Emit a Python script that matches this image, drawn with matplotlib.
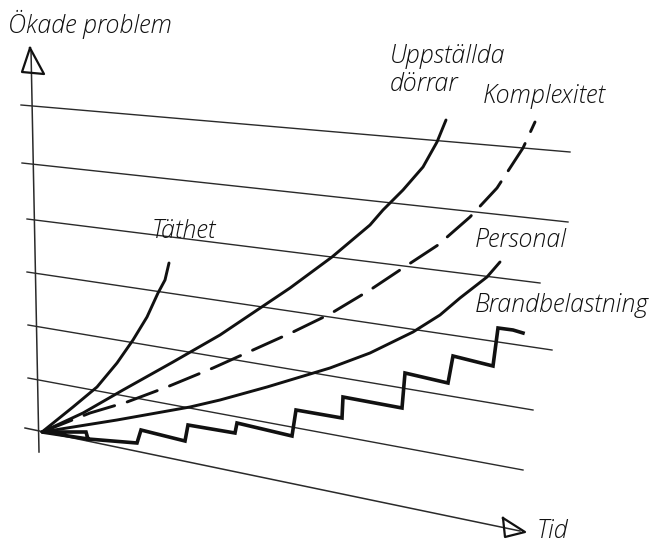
import matplotlib.pyplot as plt

# sketch is drawn in picture coordinates (x right, y down)
W, H = 660, 545

# perspective "grid" lines: start and end points
grid_x0 = [21, 22, 27, 27, 28, 28]
grid_y0 = [105, 163, 219, 272, 325, 378]
grid_x1 = [570, 568, 540, 552, 533, 523]
grid_y1 = [152, 222, 283, 350, 410, 470]

# axes
yaxis_x = [39, 31]
yaxis_y = [452, 50]
taxis_x = [25, 520]
taxis_y = [428, 531]
yarrow_x = [30, 22, 44, 30]
yarrow_y = [48, 72, 74, 48]
tarrow_x = [503, 525, 505, 503]
tarrow_y = [518, 532, 537, 518]

# curves
tathet_x = [42, 73, 97, 117, 133, 147, 158, 165, 169]
tathet_y = [432, 407, 387, 363, 340, 317, 293, 280, 263]

dorrar_x = [42, 83, 123, 173, 220, 290, 332, 370, 383, 403, 423, 437, 446]
dorrar_y = [432, 413, 390, 362, 335, 288, 257, 225, 210, 190, 167, 142, 120]

komplex_x = [42, 90, 127, 167, 213, 253, 293, 330, 370, 403, 438, 470, 497, 523, 535]
komplex_y = [432, 413, 402, 387, 368, 350, 332, 314, 290, 268, 245, 217, 188, 148, 122]

personal_x = [42, 117, 190, 220, 267, 330, 370, 413, 440, 460, 487, 500]
personal_y = [432, 420, 407, 400, 387, 368, 353, 332, 315, 298, 277, 262]

brand_x = [88, 86, 42, 88, 137, 141, 185, 188, 235, 237, 292, 296, 342, 343,
           402, 405, 448, 453, 493, 498, 513, 523]
brand_y = [439, 432, 432, 439, 443, 430, 441, 425, 433, 423, 436, 410, 418, 397,
           408, 373, 383, 356, 366, 328, 330, 333]

# labels: text, left x, baseline y
labels = ["Ökade problem", "Täthet", "Uppställda", "dörrar", "Komplexitet",
          "Personal", "Brandbelastning", "Tid"]
label_x = [8, 152, 390, 390, 483, 475, 475, 537]
label_y = [33, 238, 63, 91, 103, 247, 312, 538]

fig = plt.figure(figsize=(6.6, 5.45), dpi=100)
ax = fig.add_axes([0, 0, 1, 1])
ax.set_xlim(0, W)
ax.set_ylim(H, 0)
ax.axis('off')

ink = '#111111'
for i in range(len(grid_x0)):
    ax.plot([grid_x0[i], grid_x1[i]], [grid_y0[i], grid_y1[i]], color='#2a2a2a', lw=1.0)

ax.plot(yaxis_x, yaxis_y, color='#2a2a2a', lw=1.1)
ax.plot(taxis_x, taxis_y, color='#2a2a2a', lw=1.1)
ax.plot(yarrow_x, yarrow_y, color=ink, lw=1.6, solid_joinstyle='round')
ax.plot(tarrow_x, tarrow_y, color=ink, lw=1.6, solid_joinstyle='round')

for xs, ys in [(tathet_x, tathet_y), (dorrar_x, dorrar_y), (personal_x, personal_y)]:
    ax.plot(xs, ys, color=ink, lw=2.1, solid_joinstyle='round', solid_capstyle='round')
ax.plot(komplex_x, komplex_y, color=ink, lw=2.1, dashes=(11, 4.5),
        dash_capstyle='round')
ax.plot(brand_x, brand_y, color=ink, lw=2.6, solid_joinstyle='miter')

for t, x, y in zip(labels, label_x, label_y):
    ax.text(x, y, t, fontsize=18, family='Open Sans', style='italic',
            fontweight='light', color='#111111', ha='left', va='baseline')

fig.savefig('out.png', dpi=100)
